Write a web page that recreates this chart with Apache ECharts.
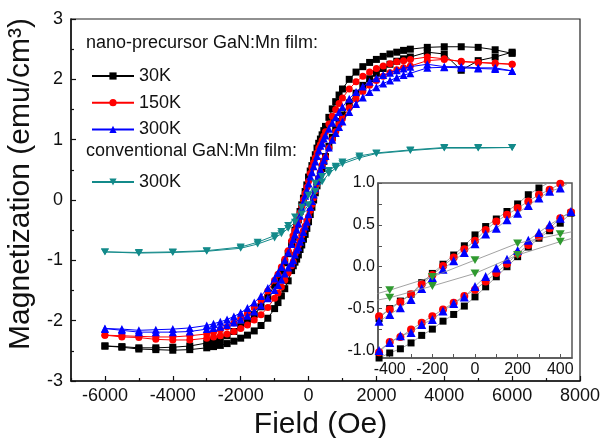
<!DOCTYPE html>
<html><head><meta charset="utf-8">
<script src="https://cdn.jsdelivr.net/npm/echarts@6/dist/echarts.min.js"></script>
<style>html,body{margin:0;padding:0;background:#fff}#c{width:602px;height:438px}</style>
</head><body><div id="c"></div>
<script>
// Field grid of the nano-precursor loops (Oe): descending branch then ascending branch
const fieldDown = [6000,5500,5000,4500,4000,3500,3000,
 2800,2600,2400,2200,2000,1800,1600,1400,1200,1000,
 900,800,700,600,500,
 450,400,350,300,250,200,150,100,50,0,-50,-100,-150,-200,-250,-300,-350,-400,-450,
 -500,-600,-700,-800,-900,
 -1000,-1200,-1400,-1600,-1800,-2000,-2200,-2400,-2600,-2800,
 -3000,-3500,-4000,-4500,-5000,-5500,-6000];
const fieldUp = [-6000,-5500,-5000,-4500,-4000,-3500,-3000,
 -2800,-2600,-2400,-2200,-2000,-1800,-1600,-1400,-1200,-1000,
 -900,-800,-700,-600,-500,
 -450,-400,-350,-300,-250,-200,-150,-100,-50,0,50,100,150,200,250,300,350,400,450,
 500,600,700,800,900,
 1000,1200,1400,1600,1800,2000,2200,2400,2600,2800,
 3000,3500,4000,4500,5000,5500,6000];

// 30K
const m30Down = [2.43,2.49,2.53,2.54,2.54,2.53,2.50,
 2.48,2.45,2.42,2.38,2.33,2.28,2.21,2.12,2.00,1.84,
 1.74,1.63,1.51,1.37,1.22,
 1.15,1.08,1.01,0.94,0.86,0.75,0.66,0.57,0.48,0.38,0.25,0.14,0.03,-0.08,-0.19,-0.33,-0.41,-0.50,-0.62,
 -0.72,-0.89,-1.04,-1.18,-1.30,
 -1.41,-1.61,-1.77,-1.90,-2.01,-2.10,-2.18,-2.25,-2.30,-2.34,
 -2.37,-2.42,-2.44,-2.45,-2.45,-2.43,-2.42];
const m30Up = [-2.42,-2.44,-2.47,-2.48,-2.49,-2.48,-2.45,
 -2.43,-2.41,-2.38,-2.34,-2.29,-2.24,-2.17,-2.08,-1.96,-1.80,
 -1.70,-1.59,-1.47,-1.34,-1.17,
 -1.09,-1.03,-0.98,-0.91,-0.82,-0.745,-0.65,-0.57,-0.47,-0.36,-0.24,-0.12,0.00,0.12,0.235,0.34,0.43,0.52,0.64,
 0.72,0.89,1.04,1.18,1.30,
 1.41,1.61,1.77,1.90,2.01,2.10,2.18,2.25,2.30,2.34,
 2.37,2.45,2.42,2.15,2.31,2.37,2.45];

// 150K
const m150Down = [2.25,2.27,2.28,2.29,2.34,2.37,2.33,
 2.31,2.29,2.26,2.22,2.18,2.12,2.05,1.96,1.84,1.69,
 1.60,1.50,1.39,1.26,1.13,
 1.06,0.99,0.92,0.86,0.78,0.70,0.62,0.54,0.44,0.31,0.21,0.11,0.01,-0.10,-0.21,-0.33,-0.42,-0.51,-0.59,
 -0.68,-0.84,-0.98,-1.11,-1.23,
 -1.33,-1.51,-1.66,-1.78,-1.88,-1.97,-2.04,-2.10,-2.15,-2.19,
 -2.22,-2.25,-2.27,-2.27,-2.26,-2.25,-2.24];
const m150Up = [-2.24,-2.27,-2.28,-2.31,-2.32,-2.32,-2.29,
 -2.27,-2.25,-2.22,-2.18,-2.13,-2.07,-1.99,-1.90,-1.78,-1.63,
 -1.54,-1.44,-1.33,-1.21,-1.09,
 -1.02,-0.90,-0.84,-0.75,-0.67,-0.59,-0.51,-0.43,-0.35,-0.275,-0.175,-0.076,0.036,0.155,0.26,0.36,0.46,0.58,0.65,
 0.71,0.86,1.00,1.13,1.25,
 1.35,1.53,1.68,1.80,1.90,1.98,2.05,2.11,2.16,2.19,
 2.22,2.31,2.33,2.30,2.28,2.26,2.25];

// 300K
const m300Down = [2.14,2.19,2.19,2.21,2.21,2.25,2.21,
 2.18,2.15,2.11,2.07,2.02,1.96,1.88,1.79,1.68,1.54,
 1.46,1.37,1.28,1.18,1.07,
 1.02,0.94,0.90,0.82,0.73,0.64,0.56,0.46,0.39,0.275,0.17,0.07,-0.03,-0.13,-0.26,-0.39,-0.49,-0.57,-0.65,
 -0.73,-0.87,-1.00,-1.11,-1.21,
 -1.30,-1.46,-1.59,-1.70,-1.79,-1.87,-1.93,-1.98,-2.02,-2.05,
 -2.08,-2.12,-2.14,-2.15,-2.16,-2.14,-2.13];
const m300Up = [-2.14,-2.16,-2.19,-2.19,-2.19,-2.18,-2.14,
 -2.12,-2.10,-2.07,-2.03,-1.98,-1.92,-1.85,-1.75,-1.63,-1.49,
 -1.41,-1.32,-1.22,-1.12,-1.05,
 -1.00,-0.905,-0.825,-0.785,-0.69,-0.63,-0.53,-0.44,-0.36,-0.235,-0.116,-0.016,0.09,0.195,0.315,0.41,0.50,0.58,0.66,
 0.73,0.87,1.00,1.11,1.21,
 1.30,1.46,1.59,1.70,1.79,1.87,1.93,1.98,2.03,2.07,
 2.10,2.19,2.20,2.19,2.18,2.17,2.14];

// conventional GaN:Mn film, 300K
const fieldConvDown = [6000,5000,4000,3000,2000,1500,1000,800,600,400,200,0,-200,-400,-600,-800,-1000,-1500,-2000,-3000,-4000,-5000,-6000];
const fieldConvUp = [-6000,-5000,-4000,-3000,-2000,-1500,-1000,-800,-600,-400,-200,0,200,400,600,800,1000,1500,2000,3000,4000,5000,6000];
const mConvDown = [0.87,0.87,0.87,0.83,0.78,0.73,0.63,0.56,0.49,0.39,0.28,0.08,-0.12,-0.28,-0.42,-0.52,-0.59,-0.70,-0.78,-0.84,-0.86,-0.87,-0.86];
const mConvUp = [-0.86,-0.88,-0.87,-0.85,-0.80,-0.73,-0.63,-0.56,-0.47,-0.37,-0.23,-0.08,0.14,0.30,0.44,0.53,0.60,0.70,0.77,0.82,0.86,0.86,0.87];

// tick labels
const xMainTicks = [-6000,-4000,-2000,0,2000,4000,6000,8000];
const xMainMinor = [-7000,-5000,-3000,-1000,1000,3000,5000,7000];
const xInsetLabels = [-400,-200,0,200,400];
const xInsetTicks = [-400,-300,-200,-100,0,100,200,300,400];
const yInsetLabels = [-1,-0.5,0,0.5,1];
const yInsetTicks = [-1,-0.75,-0.5,-0.25,0,0.25,0.5,0.75,1];

const names = ['30K','150K','300K','300K (conventional)'];
const colors = ['#000000','#ff0000','#0000ff','#138a8a'];
const insetColors = ['#000000','#ff0000','#0000ff','#2f9a2f'];
const downTri = 'path://M0,0L20,0L10,17.32Z';
const symbols = ['rect','circle','triangle',downTri];
const sizes = [7,7,8,8];
const insetSizes = [7,8,9,9];

function loop(fd, md, fu, mu){
  const d = fd.map((h,i)=>[h, md[i]]);
  return d.concat(fu.map((h,i)=>[h, mu[i]]));
}
const loops = [
  loop(fieldDown,m30Down,fieldUp,m30Up),
  loop(fieldDown,m150Down,fieldUp,m150Up),
  loop(fieldDown,m300Down,fieldUp,m300Up),
  loop(fieldConvDown,mConvDown,fieldConvUp,mConvUp)
];

const FONT = 'Liberation Sans, Arial, sans-serif';
const series = [];
loops.forEach((d,i)=>{
  series.push({
    name: names[i], type:'line', xAxisIndex:0, yAxisIndex:0, data:d,
    symbol: symbols[i], symbolSize: sizes[i], symbolKeepAspect:true,
    itemStyle:{color:colors[i]}, lineStyle:{color:colors[i], width:1},
    z: 2+i, animation:false
  });
});
loops.forEach((d,i)=>{
  const s = {
    name: 'inset'+i, type:'line', xAxisIndex:2, yAxisIndex:1, data:d, clip:true,
    symbol: symbols[i], symbolSize: insetSizes[i], symbolKeepAspect:true,
    itemStyle:{color:insetColors[i]}, lineStyle:{color:'#8a8a8a', width:0.8},
    z: 20+i, animation:false
  };
  if(i===0){
    s.markLine = {silent:true, symbol:['none','none'], label:{show:false},
      lineStyle:{color:'#7a7a7a', width:1.5, type:'solid'}, data:[{xAxis:0}], animation:false};
  }
  series.push(s);
});

const plain = (v)=>String(v);

const chart = echarts.init(document.getElementById('c'), null, {renderer:'canvas'});
chart.setOption({
  animation:false,
  backgroundColor:'#fff',
  textStyle:{fontFamily:FONT},
  grid:[
    {left:71, top:19, width:509, height:362, outerBoundsMode:'none', containLabel:false,
     show:true, borderColor:'#222', borderWidth:1.2, backgroundColor:'rgba(0,0,0,0)'},
    {left:378, top:183, width:194, height:175, outerBoundsMode:'none', containLabel:false,
     show:true, borderColor:'#555', borderWidth:1.5, backgroundColor:'#fff', z:10}
  ],
  xAxis:[
    {type:'value', gridIndex:0, min:-7000, max:8000, position:'bottom',
     axisLine:{onZero:false, lineStyle:{color:'#111', width:1.5}},
     axisTick:{inside:true, length:5, customValues:xMainTicks, lineStyle:{color:'#111', width:1.2}},
     axisLabel:{customValues:xMainTicks, formatter:plain, fontSize:18, color:'#111', margin:6, fontFamily:FONT},
     splitLine:{show:false},
     name:'Field (Oe)', nameLocation:'middle', nameGap:29,
     nameTextStyle:{fontSize:30, color:'#111', fontFamily:FONT, padding:[0,10,0,0]}},
    {type:'value', gridIndex:0, min:-7000, max:8000, position:'bottom',
     axisLine:{show:false, onZero:false},
     axisTick:{inside:true, length:3, customValues:xMainMinor, lineStyle:{color:'#111', width:1.2}},
     axisLabel:{show:false}, splitLine:{show:false}},
    {type:'value', gridIndex:1, min:-455, max:455, position:'bottom', z:12,
     axisLine:{onZero:false, lineStyle:{color:'#555', width:1.5}},
     axisTick:{inside:true, length:4, customValues:xInsetTicks, lineStyle:{color:'#555'}},
     axisLabel:{customValues:xInsetLabels, formatter:plain, fontSize:16, color:'#111', margin:4, fontFamily:FONT},
     splitLine:{show:false}}
  ],
  yAxis:[
    {type:'value', gridIndex:0, min:-3, max:3, interval:1, position:'left',
     axisLine:{onZero:false, lineStyle:{color:'#111', width:1.5}},
     axisTick:{inside:true, length:5, lineStyle:{color:'#111', width:1.2}},
     minorTick:{show:true, splitNumber:2, length:3, lineStyle:{color:'#111', width:1.2}},
     axisLabel:{fontSize:18, color:'#111', margin:8, fontFamily:FONT},
     splitLine:{show:false}, minorSplitLine:{show:false},
     name:'Magnetization (emu/cm³)', nameLocation:'middle', nameGap:28,
     nameTextStyle:{fontSize:30, color:'#111', fontFamily:FONT, padding:[0,0,0,32]}},
    {type:'value', gridIndex:1, min:-1.09, max:1.0, z:12, position:'left',
     axisLine:{onZero:false, lineStyle:{color:'#555', width:1.5}},
     axisTick:{inside:true, length:4, customValues:yInsetTicks, lineStyle:{color:'#555'}},
     axisLabel:{customValues:yInsetLabels, fontSize:16, color:'#111', margin:3, fontFamily:FONT,
       formatter:(v)=>Number(v).toFixed(1)},
     splitLine:{show:false}}
  ],
  legend:[
    {data:['30K','150K','300K'], orient:'vertical', left:86, top:62, itemWidth:42, itemHeight:9, itemGap:8.7,
     textStyle:{fontSize:18, color:'#111', fontFamily:FONT}, selectedMode:false},
    {data:['300K (conventional)'], orient:'vertical', left:86, top:168, itemWidth:42, itemHeight:9,
     formatter:()=> '300K',
     textStyle:{fontSize:18, color:'#111', fontFamily:FONT}, selectedMode:false}
  ],
  graphic:[
    {type:'text', left:86, top:34, style:{text:'nano-precursor GaN:Mn film:', font:'18px '+FONT, fill:'#111'}},
    {type:'text', left:86, top:142, style:{text:'conventional GaN:Mn film:', font:'18px '+FONT, fill:'#111'}}
  ],
  series: series
});
</script></body></html>
